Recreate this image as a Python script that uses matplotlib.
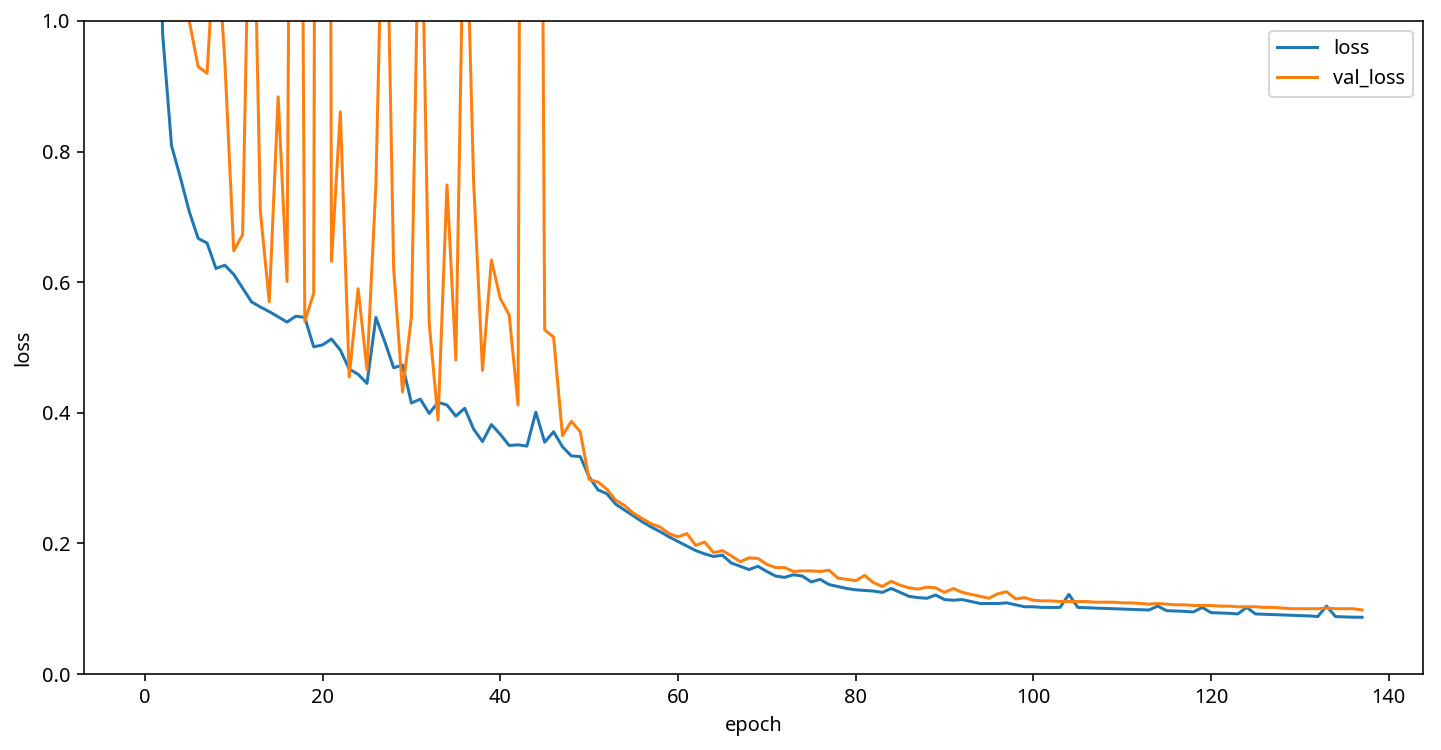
from matplotlib import pyplot as plt
import numpy as np

plt.rcParams['font.family'] = ['Noto Sans', 'DejaVu Sans']

loss = [2.5, 1.6, 0.98, 0.809, 0.760, 0.708, 0.667, 0.660, 0.621, 0.626,
        0.612, 0.591, 0.570, 0.562, 0.555, 0.547, 0.539, 0.548, 0.546, 0.501,
        0.504, 0.513, 0.496, 0.467, 0.459, 0.445, 0.546, 0.509, 0.469, 0.473,
        0.415, 0.421, 0.399, 0.416, 0.412, 0.395, 0.407, 0.375, 0.356, 0.382,
        0.367, 0.350, 0.351, 0.349, 0.401, 0.355, 0.371, 0.348, 0.334, 0.333,
        0.302, 0.282, 0.276, 0.260, 0.251, 0.242, 0.233, 0.225, 0.218, 0.210,
        0.203, 0.196, 0.189, 0.184, 0.180, 0.182, 0.170, 0.165, 0.160, 0.165,
        0.157, 0.150, 0.148, 0.152, 0.150, 0.141, 0.145, 0.137, 0.134, 0.131,
        0.129, 0.128, 0.127, 0.125, 0.131, 0.125, 0.119, 0.117, 0.116, 0.121,
        0.114, 0.113, 0.114, 0.111, 0.108, 0.108, 0.108, 0.109, 0.106, 0.103,
        0.103, 0.102, 0.102, 0.102, 0.122, 0.102, 0.1015, 0.101, 0.1005, 0.100,
        0.0995, 0.099, 0.0985, 0.098, 0.104, 0.097, 0.0965, 0.096, 0.095, 0.102,
        0.094, 0.0935, 0.093, 0.092, 0.102, 0.092, 0.0915, 0.091, 0.0905, 0.090,
        0.0895, 0.089, 0.088, 0.104, 0.088, 0.0875, 0.087, 0.087]

val_loss = [3.0, 2.0, 1.6, 1.4, 1.25, 1.0, 0.930, 0.920, 1.15, 0.938,
            0.648, 0.673, 1.38, 0.708, 0.570, 0.884, 0.601, 2.9, 0.540, 0.583,
            6.0, 0.632, 0.861, 0.455, 0.590, 0.466, 0.749, 1.35, 0.621, 0.432,
            0.547, 1.3, 0.537, 0.389, 0.749, 0.481, 1.27, 0.754, 0.465, 0.634,
            0.575, 0.550, 0.412, 4.4, 3.0, 0.527, 0.516, 0.365, 0.387, 0.371,
            0.298, 0.294, 0.283, 0.266, 0.258, 0.246, 0.238, 0.230, 0.225, 0.215,
            0.210, 0.215, 0.197, 0.202, 0.186, 0.189, 0.181, 0.172, 0.178, 0.177,
            0.168, 0.163, 0.163, 0.157, 0.158, 0.158, 0.157, 0.159, 0.147, 0.145,
            0.143, 0.151, 0.140, 0.134, 0.142, 0.136, 0.132, 0.130, 0.133, 0.132,
            0.125, 0.131, 0.125, 0.122, 0.119, 0.116, 0.123, 0.126, 0.115, 0.117,
            0.113, 0.112, 0.112, 0.111, 0.111, 0.111, 0.111, 0.110, 0.110, 0.110,
            0.109, 0.109, 0.108, 0.107, 0.108, 0.107, 0.106, 0.106, 0.105, 0.105,
            0.105, 0.104, 0.104, 0.103, 0.103, 0.103, 0.102, 0.102, 0.101, 0.100,
            0.100, 0.100, 0.100, 0.101, 0.100, 0.100, 0.100, 0.098]

epoch = np.arange(len(loss))

fig, ax = plt.subplots(figsize=(1441 / 144, 750 / 144), dpi=144)
fig.subplots_adjust(left=0.0583, right=0.9875, top=0.972, bottom=0.1013)

ax.plot(epoch, loss, label='loss')
ax.plot(epoch, val_loss, label='val_loss')
ax.set_ylim(0, 1)
ax.set_xlabel('epoch')
ax.set_ylabel('loss')
ax.legend(loc='upper right')

plt.savefig('out.png')
